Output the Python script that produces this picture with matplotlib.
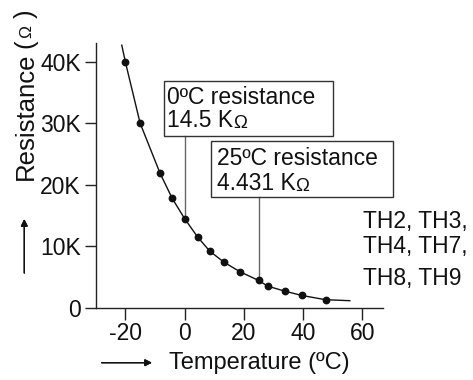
import matplotlib
matplotlib.use('Agg')
import matplotlib.pyplot as plt
from matplotlib.patches import Rectangle

plt.rcParams['font.family'] = ['Liberation Sans', 'DejaVu Sans']

# thermistor curve: temperature (degC) vs resistance (kOhm)
temp_pts = [-20, -15, -8.3, -4.2, 0, 4.4, 8.5, 13.3, 18.7, 25, 28.1, 33.8, 39.5, 47.6]
res_pts = [40.0, 30.0, 21.9, 17.8, 14.5, 11.5, 9.2, 7.4, 5.85, 4.431, 3.5, 2.7, 2.0, 1.3]
# smooth line runs a little past the first and last dot
curve_t = [-21.2] + temp_pts + [55.8]
curve_r = [42.7] + res_pts + [1.14]

x_ticks = [-20, 0, 20, 40, 60]
y_ticks = [0, 10, 20, 30, 40]
y_tick_labels = ['0', '10K', '20K', '30K', '40K']

ref0_t, ref0_r = 0, 14.5
ref25_t, ref25_r = 25, 4.431

W, H = 473, 380
ink = '#111111'
fs = 16.5

fig = plt.figure(figsize=(W / 100, H / 100), dpi=100)


def fpx(x, y):
    return x / W, 1 - y / H


ax = fig.add_axes([96 / W, 1 - 307.7 / H, (383.3 - 96) / W, (307.7 - 43.3) / H])
ax.set_xlim(-29.9, 67.1)
ax.set_ylim(0, 43.0)

ax.plot(curve_t, curve_r, color=ink, lw=1.0, zorder=3)
ax.plot(temp_pts, res_pts, 'o', color=ink, ms=4.6, zorder=4)

for s in ['top', 'right']:
    ax.spines[s].set_visible(False)
for s in ['left', 'bottom']:
    ax.spines[s].set_color('#222222')
    ax.spines[s].set_linewidth(1.0)

ax.set_xticks(x_ticks)
ax.set_xticklabels([str(v) for v in x_ticks])
ax.set_yticks(y_ticks)
ax.set_yticklabels(y_tick_labels)
ax.tick_params(axis='y', direction='out', length=8, width=1, color='#222222',
               labelsize=fs, labelcolor=ink, pad=3)
ax.tick_params(axis='x', direction='out', length=8.6, width=1, color='#222222',
               labelsize=fs, labelcolor=ink, pad=1.5)

# annotation boxes with leader lines
ax.add_patch(Rectangle((-6.94, 27.9), 57.1, 9.0, fill=False, ec='#333333',
                       lw=1.0, clip_on=False, zorder=5))
ax.plot([ref0_t, ref0_t], [27.9, ref0_r], color='#666666', lw=1.0, zorder=2)
ax.text(-5.8, 33.2, '0ºC resistance', fontsize=fs, color=ink, va='baseline')
t0 = ax.text(-5.8, 29.4, '%.1f K' % ref0_r, fontsize=fs, color=ink, va='baseline')
ax.annotate('Ω', xy=(1, 0), xycoords=t0, fontsize=13.5, color=ink,
            va='bottom', ha='left')

ax.add_patch(Rectangle((8.83, 18.05), 61.7, 9.05, fill=False, ec='#333333',
                       lw=1.0, clip_on=False, zorder=5))
ax.plot([ref25_t, ref25_t], [18.05, ref25_r], color='#666666', lw=1.0, zorder=2)
ax.text(10.8, 23.2, '25ºC resistance', fontsize=fs, color=ink, va='baseline',
        clip_on=False)
t25 = ax.text(10.8, 19.1, '%.3f K' % ref25_r, fontsize=fs, color=ink,
              va='baseline')
ax.annotate('Ω', xy=(1, 0), xycoords=t25, fontsize=13.5, color=ink,
            va='bottom', ha='left')

for txt, yb in [('TH2, TH3,', 12.9), ('TH4, TH7,', 8.85), ('TH8, TH9', 3.7)]:
    ax.text(60.1, yb, txt, fontsize=fs, color=ink, va='baseline', clip_on=False)

# axis titles with direction arrows
fig.text(*fpx(259, 362.7), 'Temperature (ºC)', fontsize=17, color=ink,
         ha='center', va='center')
fig.add_artist(plt.annotate('', xy=fpx(152, 362.7), xytext=fpx(101.7, 362.7),
                            xycoords='figure fraction',
                            arrowprops=dict(arrowstyle='-|>', color=ink, lw=1.0,
                                            mutation_scale=10, shrinkA=0, shrinkB=0)))

yl_fs = 18.5
fig.text(*fpx(32.8, 116), 'Resistance', fontsize=yl_fs, color=ink, rotation=90,
         rotation_mode='anchor', ha='center', va='baseline')
fig.text(*fpx(32.8, 44), '(', fontsize=yl_fs, color=ink, rotation=90,
         rotation_mode='anchor', ha='center', va='baseline')
fig.text(*fpx(31.2, 31.5), 'Ω', fontsize=12.5, color=ink, rotation=90,
         rotation_mode='anchor', ha='center', va='baseline')
fig.text(*fpx(32.8, 14), ')', fontsize=yl_fs, color=ink, rotation=90,
         rotation_mode='anchor', ha='center', va='baseline')
fig.add_artist(plt.annotate('', xy=fpx(24.3, 219), xytext=fpx(24.3, 273),
                            xycoords='figure fraction',
                            arrowprops=dict(arrowstyle='-|>', color=ink, lw=1.0,
                                            mutation_scale=10, shrinkA=0, shrinkB=0)))

fig.savefig('out.png', dpi=100, facecolor='white')
